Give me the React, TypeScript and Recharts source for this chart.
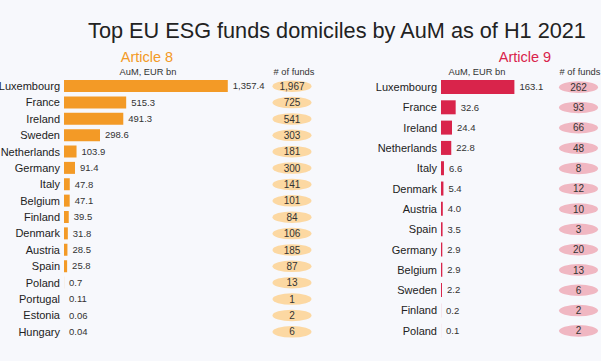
import React from 'react';
import { BarChart, Bar, XAxis, YAxis, LabelList } from 'recharts';

// Article 8 funds
const art8Countries = [
  'Luxembourg', 'France', 'Ireland', 'Sweden', 'Netherlands', 'Germany', 'Italy', 'Belgium',
  'Finland', 'Denmark', 'Austria', 'Spain', 'Poland', 'Portugal', 'Estonia', 'Hungary'
];
const art8Aum = [1357.4, 515.3, 491.3, 298.6, 103.9, 91.4, 47.8, 47.1, 39.5, 31.8, 28.5, 25.8, 0.7, 0.11, 0.06, 0.04];
const art8Labels = ['1,357.4', '515.3', '491.3', '298.6', '103.9', '91.4', '47.8', '47.1', '39.5', '31.8', '28.5', '25.8', '0.7', '0.11', '0.06', '0.04'];
const art8Funds = [1967, 725, 541, 303, 181, 300, 141, 101, 84, 106, 185, 87, 13, 1, 2, 6];

// Article 9 funds
const art9Countries = [
  'Luxembourg', 'France', 'Ireland', 'Netherlands', 'Italy', 'Denmark', 'Austria', 'Spain',
  'Germany', 'Belgium', 'Sweden', 'Finland', 'Poland'
];
const art9Aum = [163.1, 32.6, 24.4, 22.8, 6.6, 5.4, 4.0, 3.5, 2.9, 2.9, 2.2, 0.2, 0.1];
const art9Labels = ['163.1', '32.6', '24.4', '22.8', '6.6', '5.4', '4.0', '3.5', '2.9', '2.9', '2.2', '0.2', '0.1'];
const art9Funds = [262, 93, 66, 48, 8, 12, 10, 3, 20, 13, 6, 2, 2];

const ORANGE = '#f39a26';
const CRIMSON = '#d9244b';

const art8Data = art8Countries.map((country, i) => ({
  country,
  aum: art8Aum[i],
  label: art8Labels[i],
  funds: art8Funds[i]
}));

const art9Data = art9Countries.map((country, i) => ({
  country,
  aum: art9Aum[i],
  label: art9Labels[i],
  funds: art9Funds[i]
}));

const FundsPill = ({ x, y, index, funds, fill, shift }: any) => (
  <g>
    <ellipse cx={x + shift} cy={y} rx={19.5} ry={5.8} fill={fill} />
    <text x={x + shift} y={y} dy={3.6} textAnchor="middle" fontSize={10} fill="#333">
      {funds[index] !== undefined ? funds[index].toLocaleString('en-US') : ''}
    </text>
  </g>
);

const App: React.FC = () => {
  return (
    <div
      style={{
        position: 'absolute',
        left: 0,
        top: 0,
        width: 601,
        height: 361,
        background: '#f7f8fc',
        fontFamily: '"Liberation Sans", Arial, sans-serif',
        overflow: 'hidden'
      }}
    >
      <svg width={601} height={361} style={{ position: 'absolute', left: 0, top: 0 }}>
        <text x={337} y={38} textAnchor="middle" fontSize={21.7} fill="#222">
          Top EU ESG funds domiciles by AuM as of H1 2021
        </text>
        <text x={147} y={62} textAnchor="middle" fontSize={14.5} fill={ORANGE}>Article 8</text>
        <text x={525} y={62} textAnchor="middle" fontSize={14.5} fill={CRIMSON}>Article 9</text>
        <text x={148} y={75} textAnchor="middle" fontSize={9.3} fill="#333">AuM, EUR bn</text>
        <text x={294} y={75} textAnchor="middle" fontSize={9.3} fill="#333"># of funds</text>
        <text x={477} y={75} textAnchor="middle" fontSize={9.3} fill="#333">AuM, EUR bn</text>
        <text x={580} y={75} textAnchor="middle" fontSize={9.3} fill="#333"># of funds</text>
      </svg>

      <div style={{ position: 'absolute', left: 0, top: 0 }}>
        <BarChart
          width={330}
          height={361}
          data={art8Data}
          layout="vertical"
          margin={{ top: 78, right: 0, left: 0, bottom: 21 }}
          barCategoryGap={0}
        >
          <XAxis type="number" hide domain={[0, 1500]} />
          <YAxis
            type="category"
            dataKey="country"
            width={64}
            tickSize={0}
            tickMargin={4}
            axisLine={false}
            tickLine={false}
            interval={0}
            tick={{ fill: '#222', fontSize: 11 }}
          />
          <YAxis
            yAxisId="funds"
            orientation="right"
            type="category"
            dataKey="country"
            width={85}
            tickSize={0}
            tickMargin={0}
            axisLine={false}
            tickLine={false}
            interval={0}
            tick={(props: any) => (
              <FundsPill {...props} funds={art8Funds} fill="#fcd8a2" shift={47} />
            )}
          />
          <Bar dataKey="aum" fill={ORANGE} barSize={12} isAnimationActive={false}>
            <LabelList dataKey="label" position="right" offset={5} fontSize={9.5} fill="#333" />
          </Bar>
        </BarChart>
      </div>

      <div style={{ position: 'absolute', left: 371, top: 0 }}>
        <BarChart
          width={230}
          height={361}
          data={art9Data}
          layout="vertical"
          margin={{ top: 77, right: 0, left: 0, bottom: 20 }}
          barCategoryGap={0}
        >
          <XAxis type="number" hide domain={[0, 200]} />
          <YAxis
            type="category"
            dataKey="country"
            width={70}
            tickSize={0}
            tickMargin={4}
            axisLine={false}
            tickLine={false}
            interval={0}
            tick={{ fill: '#222', fontSize: 11 }}
          />
          <YAxis
            yAxisId="funds"
            orientation="right"
            type="category"
            dataKey="country"
            width={70}
            tickSize={0}
            tickMargin={0}
            axisLine={false}
            tickLine={false}
            interval={0}
            tick={(props: any) => (
              <FundsPill {...props} funds={art9Funds} fill="#f0b7c2" shift={47.5} />
            )}
          />
          <Bar dataKey="aum" fill={CRIMSON} barSize={14} isAnimationActive={false}>
            <LabelList dataKey="label" position="right" offset={5} fontSize={9.5} fill="#333" />
          </Bar>
        </BarChart>
      </div>
    </div>
  );
};

export default App;
